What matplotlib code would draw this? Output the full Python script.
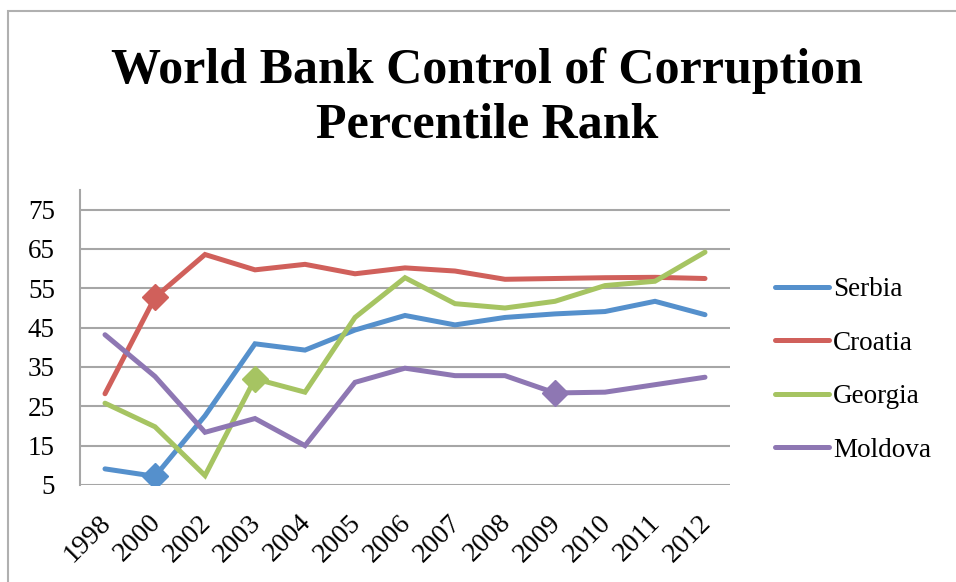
import matplotlib
matplotlib.use("Agg")
import matplotlib.pyplot as plt
from matplotlib.patches import Rectangle
from matplotlib.transforms import ScaledTranslation

years = ["1998", "2000", "2002", "2003", "2004", "2005", "2006",
         "2007", "2008", "2009", "2010", "2011", "2012"]
serbia = [9.1, 7.2, 22.6, 40.9, 39.3, 44.4, 48.1, 45.7, 47.6, 48.5, 49.1, 51.7, 48.3]
croatia = [28.2, 52.7, 63.6, 59.7, 61.1, 58.7, 60.2, 59.4, 57.3, 57.5, 57.7, 57.8, 57.5]
georgia = [25.8, 19.8, 7.4, 32.0, 28.6, 47.6, 57.7, 51.1, 50.0, 51.7, 55.7, 56.8, 64.2]
moldova = [43.2, 32.6, 18.4, 21.9, 15.0, 31.1, 34.7, 32.8, 32.8, 28.4, 28.6, 30.5, 32.4]
series_names = ["Serbia", "Croatia", "Georgia", "Moldova"]
series_values = [serbia, croatia, georgia, moldova]
marker_idx = [1, 1, 3, 9]  # single highlighted point per series
colors = ["#5590CC", "#D0605B", "#A6C462", "#8E77B3"]
yticks = [5, 15, 25, 35, 45, 55, 65, 75]

plt.rcParams['font.family'] = ['Liberation Serif', 'DejaVu Serif']

W, H = 956, 582
fig = plt.figure(figsize=(W / 100, H / 100), dpi=100)
fig.patches.append(Rectangle((8 / W, -0.05), 1.0, 1 - 11 / H + 0.05, transform=fig.transFigure,
                             fill=False, edgecolor="#B0B0B0", linewidth=1.5))
ax = fig.add_axes([80 / W, 1 - 485 / H, 650 / W, 295 / H])

x = list(range(len(years)))
for name, vals, mi, c in zip(series_names, series_values, marker_idx, colors):
    ax.plot(x, vals, color=c, linewidth=3.6, solid_joinstyle="miter",
            solid_capstyle="round", label=name, zorder=3)
    ax.plot([x[mi]], [vals[mi]], marker="D", markersize=13, color=c,
            linestyle="none", zorder=4)

ax.set_xlim(-0.5, len(years) - 0.5)
ax.set_ylim(5, 80)
ax.set_yticks(yticks)
ax.set_yticklabels([str(v) for v in yticks], fontsize=19.5)
ax.set_xticks(x)
ax.set_xticklabels(years, rotation=45, ha="right", rotation_mode="anchor", fontsize=20)
ax.tick_params(axis="x", length=0, pad=18)
ax.tick_params(axis="y", length=0, pad=18)
off = ScaledTranslation(-7 / 100, 0, fig.dpi_scale_trans)
for lbl in ax.get_xticklabels():
    lbl.set_transform(lbl.get_transform() + off)
for yv in yticks:
    ax.axhline(yv, color="#A6A6A6", linewidth=1.5, zorder=1)
for s in ["top", "right", "bottom"]:
    ax.spines[s].set_visible(False)
ax.spines["left"].set_color("#A6A6A6")
ax.spines["left"].set_linewidth(1.5)
ax.set_facecolor("none")

leg = fig.legend(loc="center left", bbox_to_anchor=(775 / W, 1 - 370 / H), frameon=False,
                 fontsize=19.5, handlelength=2.0, handletextpad=0.15, labelspacing=1.05,
                 borderpad=0, borderaxespad=0)
for h in leg.get_lines():
    h.set_linewidth(3.6)

fig.text(487 / W, 1 - 98 / H, "World Bank Control of Corruption\nPercentile Rank",
         ha="center", va="center", fontsize=36, fontweight="bold", linespacing=1.25)

fig.savefig("out.png", dpi=100)
